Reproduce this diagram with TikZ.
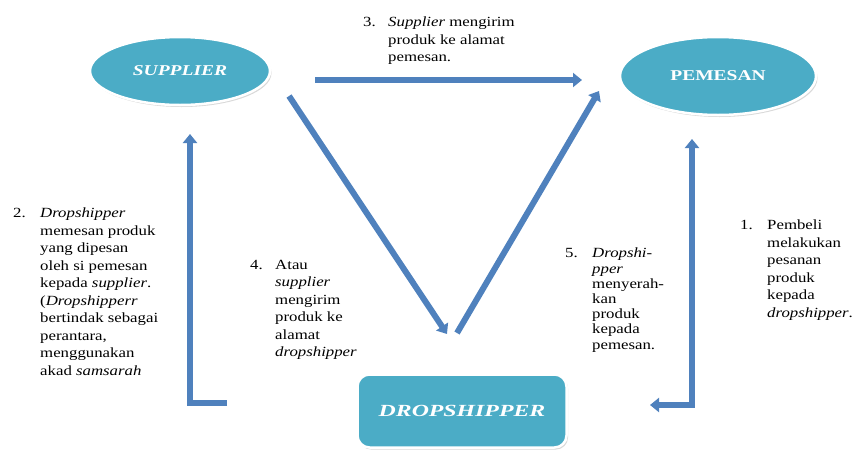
\documentclass[tikz,border=0pt]{standalone}
\usepackage{fontspec}
\setmainfont{Liberation Serif}
\newfontfamily\lblfont[FakeStretch=1.2]{Liberation Serif}
\newfontfamily\ttlfont[FakeStretch=1.3]{Liberation Serif}
\newfontfamily\dsfont[FakeStretch=1.4]{Liberation Serif}
\usetikzlibrary{arrows.meta,shadows,shapes.geometric}
\definecolor{entteal}{HTML}{4BACC6}
\definecolor{flowblue}{HTML}{4F81BD}
\tikzset{
  x=1pt,y=-1pt,
  entity/.style={fill=entteal,draw=white,line width=2.5pt,text=white,
    drop shadow={shadow xshift=1.5pt,shadow yshift=-2pt,opacity=0.3}},
  flow/.style={draw=flowblue,line width=6pt,
    -{Triangle[width=14pt,length=9pt]}},
  bothflow/.style={draw=flowblue,line width=6pt,
    {Triangle[width=14pt,length=9pt]}-{Triangle[width=14pt,length=9pt]}},
  lbl/.style={inner sep=0pt,align=left,anchor=north west,
    font=\lblfont\fontsize{14}{17.5}\selectfont},
  num/.style={inner sep=0pt,anchor=north west,
    font=\lblfont\fontsize{14}{17.5}\selectfont},
}
\begin{document}
\begin{tikzpicture}
\useasboundingbox (0,0) rectangle (853,450);
% entities
\node[entity,ellipse,minimum width=180,minimum height=68,
  font=\ttlfont\fontsize{15}{18}\selectfont\bfseries\itshape] (sup) at (180,71) {SUPPLIER};
\node[entity,ellipse,minimum width=196,minimum height=78,
  font=\ttlfont\fontsize{15}{18}\selectfont\bfseries] (pem) at (718,76) {PEMESAN};
\node[entity,rounded corners=12pt,minimum width=209,minimum height=73,
  font=\dsfont\fontsize{17}{20}\selectfont\bfseries\itshape] (drop) at (462,411) {DROPSHIPPER};
% connector end points
\coordinate (a3s) at (315,80);
\coordinate (a3e) at (582,80);
\coordinate (a4s) at (289,96);
\coordinate (a4e) at (447,334);
\coordinate (a5s) at (457,333);
\coordinate (a5e) at (599,91);
\coordinate (a2s) at (227,403);
\coordinate (a2c) at (190,403);
\coordinate (a2e) at (190,134);
\coordinate (a1s) at (692,139);
\coordinate (a1c) at (692,405);
\coordinate (a1e) at (650,405);
% arrows
\draw[flow] (a3s) -- (a3e);
\draw[flow] (a4s) -- (a4e);
\draw[flow] (a5s) -- (a5e);
\draw[flow] (a2s) -- (a2c) -- (a2e);
\draw[bothflow] (a1s) -- (a1c) -- (a1e);
% labels
\node[num] (n3) at (363,17) {3.};
\node[lbl] (t3) at (388,17) {\textit{Supplier} mengirim\\produk ke alamat\\pemesan.};
\node[num] (n2) at (13,208) {2.};
\node[lbl] (t2) at (40,208) {\textit{Dropshipper}\\memesan produk\\yang dipesan\\oleh si pemesan\\kepada \textit{supplier}.\\(\textit{Dropshipperr}\\bertindak sebagai\\perantara,\\menggunakan\\akad \textit{samsarah}};
\node[num] (n4) at (250,260) {4.};
\node[lbl] (t4) at (275,260) {Atau\\\textit{supplier}\\mengirim\\produk ke\\alamat\\\textit{dropshipper}};
\node[num] (n5) at (565,248) {5.};
\node[lbl,font=\lblfont\fontsize{14}{15.2}\selectfont] (t5) at (592,248) {\textit{Dropshi-}\\\textit{pper}\\menyerah-\\kan\\produk\\kepada\\pemesan.};
\node[num] (n1) at (740,220) {1.};
\node[lbl] (t1) at (767,220) {Pembeli\\melakukan\\pesanan\\produk\\kepada\\\textit{dropshipper}.};
\end{tikzpicture}
\end{document}
